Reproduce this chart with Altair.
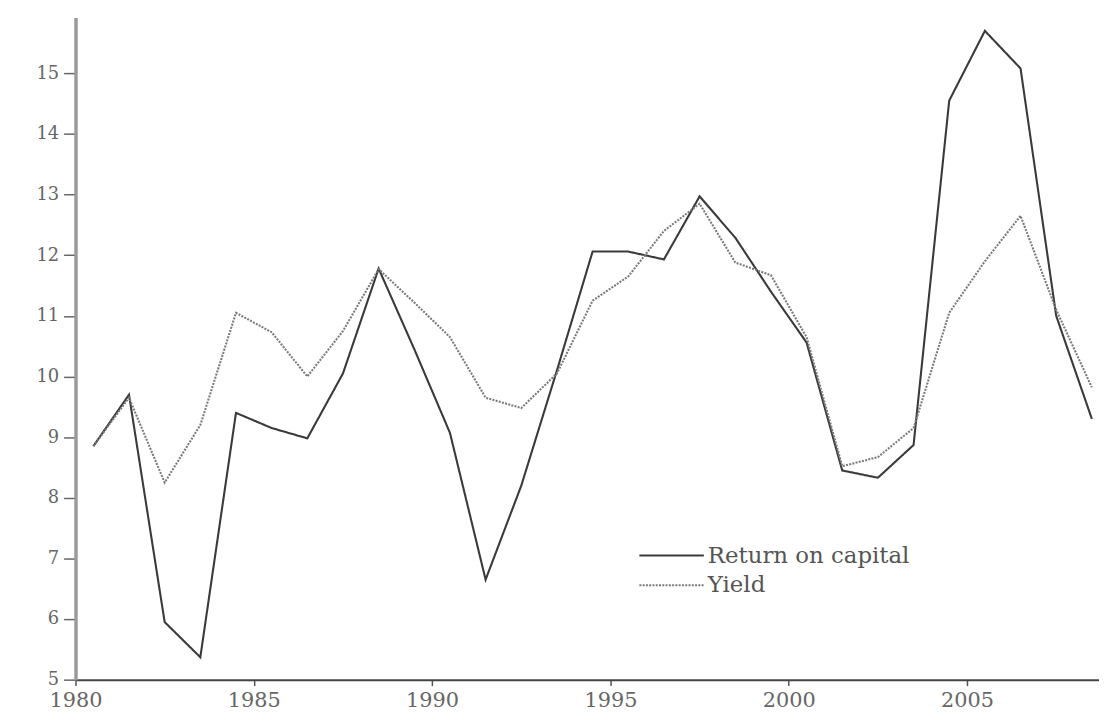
import altair as alt
import pandas as pd

years = list(range(1980, 2009))
return_on_capital = [8.85, 9.70, 5.95, 5.37, 9.40, 9.15, 8.98, 10.05, 11.78, 10.45,
                     9.07, 6.65, 8.20, 10.10, 12.06, 12.06, 11.93, 12.97, 12.29, 11.40,
                     10.56, 8.45, 8.33, 8.87, 14.55, 15.70, 15.08, 11.00, 9.30]
yield_ = [8.85, 9.65, 8.25, 9.20, 11.05, 10.73, 10.00, 10.75, 11.77, 11.22,
          10.65, 9.65, 9.48, 10.05, 11.25, 11.65, 12.40, 12.85, 11.88, 11.67,
          10.65, 8.52, 8.67, 9.15, 11.05, 11.90, 12.65, 11.10, 9.82]
series_names = ["Return on capital", "Yield"]
x_ticks = [1980, 1985, 1990, 1995, 2000, 2005]
y_ticks = list(range(5, 16))

rows = []
for i, yr in enumerate(years):
    rows.append({"year": yr, "value": return_on_capital[i], "series": series_names[0]})
    rows.append({"year": yr, "value": yield_[i], "series": series_names[1]})
df = pd.DataFrame(rows)

SERIF = "DejaVu Serif"

legend_opts = dict(title=None, orient="none", legendX=567, legendY=526,
                   symbolType="M-1,0H3.33", symbolSize=900, symbolStrokeWidth=2,
                   labelFont=SERIF, labelFontSize=23, labelColor="#555",
                   labelOffset=38, labelLimit=0, rowPadding=2)

chart = alt.Chart(df).transform_calculate(
    t="datum.year + 0.5"
).mark_line(strokeWidth=2.1).encode(
    x=alt.X("t:Q",
            scale=alt.Scale(domain=[1980, 2008.7], nice=False, zero=False),
            axis=alt.Axis(values=x_ticks, format="d", title=None, grid=False,
                          labelFlush=False,
                          domainColor="#444", domainWidth=2, tickColor="#555",
                          tickSize=6, tickWidth=1.5, labelFont=SERIF, labelFontSize=21,
                          labelColor="#666", labelPadding=4)),
    y=alt.Y("value:Q",
            scale=alt.Scale(domain=[5, 15.92], nice=False, zero=False),
            axis=alt.Axis(values=y_ticks, title=None, grid=False,
                          labelFlush=False,
                          domainColor="#9a9a9a", domainWidth=3.5, tickColor="#666",
                          tickSize=12, tickWidth=1.5, labelFont=SERIF, labelFontSize=18,
                          labelColor="#666", labelPadding=5)),
    color=alt.Color("series:N",
                    scale=alt.Scale(domain=series_names, range=["#3a3a3a", "#7a7a7a"]),
                    legend=alt.Legend(**legend_opts)),
    strokeDash=alt.StrokeDash("series:N",
                              scale=alt.Scale(domain=series_names, range=[[1, 0], [2, 1.3]]),
                              legend=alt.Legend(**legend_opts)),
).properties(
    width=1031, height=667,
    autosize=alt.AutoSizeParams(type="none"),
    padding={"left": 68, "top": 7, "right": 0, "bottom": 32},
).configure_view(strokeWidth=0)

chart.save("out.html", embed_options={"renderer": "svg", "actions": False})
